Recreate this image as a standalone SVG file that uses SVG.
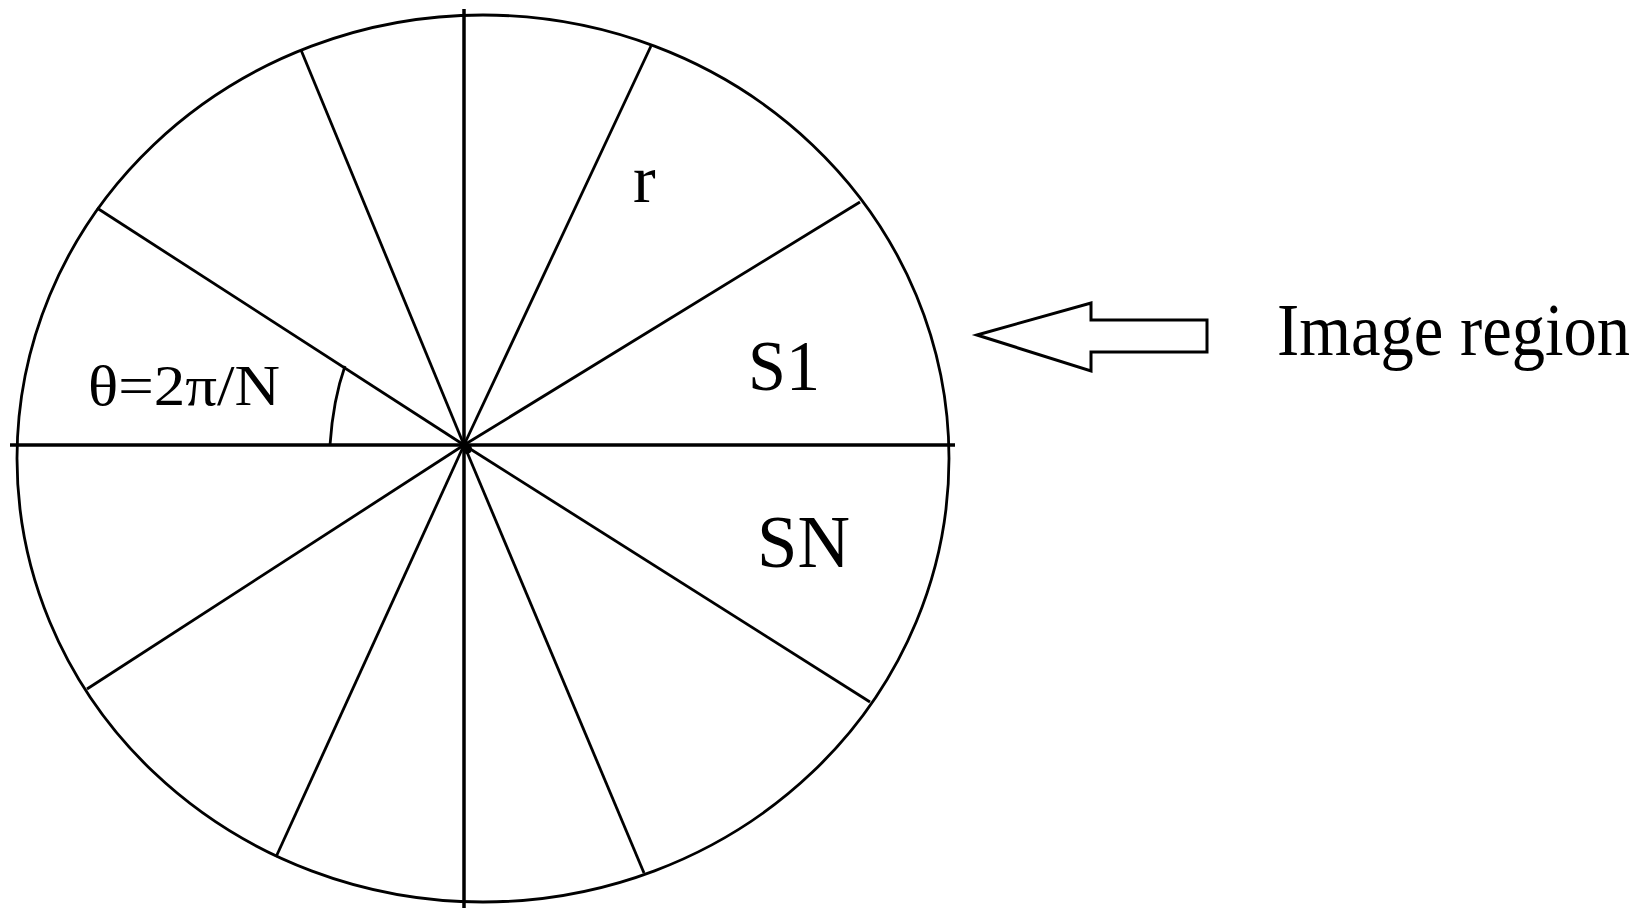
<svg xmlns="http://www.w3.org/2000/svg" width="1651" height="922" viewBox="0 0 1651 922">
<style>
.ln{stroke:#000;fill:none}
.spoke{stroke-width:2.8}
.axis{stroke-width:3.5}
.t{font-family:"Liberation Serif","Times New Roman",serif;fill:#000}
</style>
<rect x="0" y="0" width="1651" height="922" fill="#fff"/>
<g id="circle">
<ellipse class="ln" cx="483" cy="458.5" rx="466" ry="443.5" stroke-width="2.8"/>
</g>
<g id="spokes">
<line class="ln spoke" x1="464" y1="445" x2="651" y2="46"/>
<line class="ln spoke" x1="464" y1="445" x2="860" y2="202"/>
<line class="ln spoke" x1="464" y1="445" x2="870" y2="702"/>
<line class="ln spoke" x1="464" y1="445" x2="644" y2="873"/>
<line class="ln spoke" x1="464" y1="445" x2="276" y2="857"/>
<line class="ln spoke" x1="464" y1="445" x2="87" y2="689"/>
<line class="ln spoke" x1="464" y1="445" x2="97" y2="208"/>
<line class="ln spoke" x1="464" y1="445" x2="301" y2="50"/>
<line class="ln axis" x1="10" y1="445" x2="955" y2="445"/>
<line class="ln axis" x1="464" y1="9" x2="464" y2="908"/>
<circle cx="467" cy="449" r="5" fill="#000"/>
<path class="ln" stroke-width="2.8" d="M330,445 Q333,400 345,366"/>
</g>
<g id="arrow">
<path class="ln" stroke-width="3" d="M977,335 L1091,303 L1091,320 L1207,320 L1207,352 L1091,352 L1091,371 Z"/>
</g>
<g id="labels">
<text class="t" x="633" y="202" font-size="68">r</text>
<text class="t" x="748" y="390" font-size="72" textLength="72" lengthAdjust="spacingAndGlyphs">S1</text>
<text class="t" x="757" y="567" font-size="73" textLength="93" lengthAdjust="spacingAndGlyphs">SN</text>
<text class="t" x="88" y="405" font-size="56" textLength="192" lengthAdjust="spacingAndGlyphs">θ=2π/N</text>
<text class="t" transform="translate(1277,355) scale(0.9,1)" x="0" y="0" font-size="74">Image region</text>
</g>
</svg>
